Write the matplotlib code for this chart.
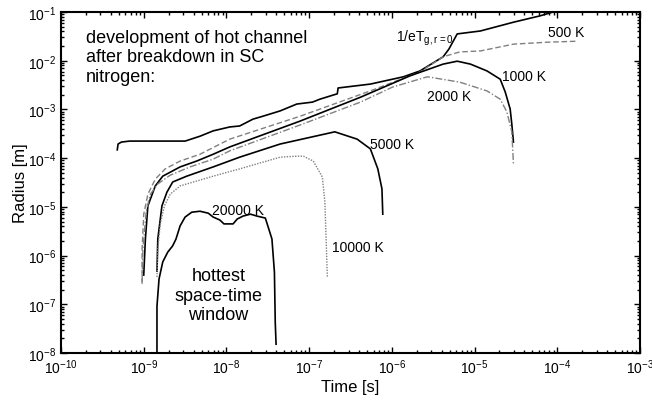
import numpy as np
import matplotlib
matplotlib.use('Agg')
import matplotlib.pyplot as plt
from matplotlib.ticker import LogLocator, NullFormatter

plt.rcParams['font.family'] = ['Liberation Sans', 'DejaVu Sans']
plt.rcParams['mathtext.default'] = 'regular'

# curves, stored as log10(time [s]) and log10(radius [m])
t_1e = [-9.32, -9.31, -9.27, -9.17, -8.50, -8.32, -8.16, -7.96, -7.84, -7.68, -7.56, -7.35,
        -7.15, -6.96, -6.87, -6.70, -6.66, -6.65, -6.26, -5.86, -5.66, -5.38, -5.31, -5.21,
        -4.93, -4.53, -4.21, -4.05, -3.95]
r_1e = [-3.83, -3.71, -3.67, -3.65, -3.65, -3.55, -3.44, -3.36, -3.34, -3.20, -3.14, -3.03,
        -2.89, -2.85, -2.79, -2.70, -2.68, -2.56, -2.48, -2.33, -2.21, -1.92, -1.76, -1.45,
        -1.39, -1.21, -1.08, -1.00, -0.95]

t_500 = [-9.02, -9.02, -9.00, -8.95, -8.86, -8.74, -8.56, -8.32, -7.96, -7.11, -6.26, -5.66,
         -5.38, -5.18, -4.93, -4.53, -4.12, -3.76]
r_500 = [-6.58, -5.87, -5.15, -4.74, -4.43, -4.22, -4.06, -3.92, -3.61, -3.14, -2.62, -2.23,
         -1.92, -1.82, -1.80, -1.66, -1.62, -1.60]

t_1000 = [-9.00, -8.98, -8.95, -8.86, -8.77, -8.56, -8.36, -8.16, -7.96, -7.11, -6.38, -5.78,
          -5.38, -5.21, -5.05, -4.85, -4.69, -4.63, -4.57, -4.55, -4.53]
r_1000 = [-6.40, -5.66, -4.98, -4.57, -4.37, -4.18, -4.06, -3.92, -3.77, -3.24, -2.75, -2.31,
          -2.07, -2.01, -2.07, -2.21, -2.38, -2.64, -2.99, -3.30, -3.67]

t_2000 = [-9.02, -9.01, -8.97, -8.92, -8.83, -8.68, -8.44, -8.16, -7.96, -7.11, -6.38, -5.99,
          -5.57, -5.18, -4.85, -4.69, -4.61, -4.55, -4.53]
r_2000 = [-6.54, -5.87, -5.09, -4.74, -4.53, -4.35, -4.18, -4.02, -3.85, -3.32, -2.85, -2.54,
          -2.33, -2.44, -2.62, -2.79, -3.05, -3.46, -4.12]

t_5000 = [-8.84, -8.83, -8.78, -8.72, -8.65, -8.48, -8.16, -7.84, -7.35, -6.69, -6.42, -6.26,
          -6.17, -6.12, -6.11]
r_5000 = [-6.32, -5.66, -4.98, -4.70, -4.49, -4.37, -4.18, -3.98, -3.71, -3.46, -3.61, -3.81,
          -4.22, -4.63, -5.15]

t_10000 = [-8.84, -8.83, -8.80, -8.75, -8.68, -8.56, -8.36, -8.16, -7.84, -7.35, -7.15, -7.07,
           -6.95, -6.84, -6.81, -6.78]
r_10000 = [-6.44, -5.87, -5.35, -4.98, -4.74, -4.57, -4.47, -4.37, -4.22, -3.98, -3.96, -3.96,
           -4.06, -4.39, -4.90, -6.44]

t_20000 = [-8.84, -8.84, -8.815, -8.77, -8.71, -8.65, -8.61, -8.56, -8.50, -8.42, -8.32, -8.22,
           -8.16, -8.08, -8.03, -7.92, -7.87, -7.80, -7.71, -7.63, -7.53, -7.50, -7.45, -7.42,
           -7.41, -7.40]
r_20000 = [-8.30, -7.04, -6.48, -6.13, -5.93, -5.80, -5.66, -5.39, -5.21, -5.11, -5.09, -5.13,
           -5.21, -5.27, -5.35, -5.35, -5.25, -5.19, -5.15, -5.19, -5.23, -5.39, -5.66, -6.34,
           -7.37, -7.82]

fig = plt.figure(figsize=(6.52, 4.02), dpi=100)
ax = fig.add_axes([0.0936, 0.1194, 0.888, 0.8483])

def p(t, r, **kw):
    ax.plot(10.0**np.asarray(t), 10.0**np.asarray(r), **kw)

p(t_1e, r_1e, color='black', lw=1.2)
p(t_500, r_500, color='#808080', lw=1.0, ls=(0, (4, 2)))
p(t_1000, r_1000, color='black', lw=1.2)
p(t_2000, r_2000, color='#808080', lw=1.0, ls=(0, (5, 1.5, 1, 1.5)))
p(t_5000, r_5000, color='black', lw=1.2)
p(t_10000, r_10000, color='#808080', lw=1.0, ls=(0, (1, 1)))
p(t_20000, r_20000, color='black', lw=1.2)

ax.set_xscale('log')
ax.set_yscale('log')
ax.set_xlim(1e-10, 1e-3)
ax.set_ylim(1e-8, 1e-1)
ax.xaxis.set_major_locator(LogLocator(base=10, numticks=20))
ax.yaxis.set_major_locator(LogLocator(base=10, numticks=20))
ax.xaxis.set_minor_locator(LogLocator(base=10, subs=np.arange(2, 10), numticks=20))
ax.yaxis.set_minor_locator(LogLocator(base=10, subs=np.arange(2, 10), numticks=20))
ax.xaxis.set_minor_formatter(NullFormatter())
ax.yaxis.set_minor_formatter(NullFormatter())
ax.tick_params(which='both', direction='in', top=True, right=True, labelsize=10, width=1.0)
ax.tick_params(which='major', length=4)
ax.tick_params(which='minor', length=2.5)
for s in ax.spines.values():
    s.set_linewidth(1.5)

ax.set_xlabel('Time [s]', fontsize=12, labelpad=2)
ax.set_ylabel('Radius [m]', fontsize=12, labelpad=0)

ax.text(0.043, 0.868, 'development of hot channel\nafter breakdown in SC\nnitrogen:',
        transform=ax.transAxes, fontsize=13, va='center', ha='left', linespacing=1.2)
ax.text(0.272, 0.170, 'hottest\nspace-time\nwindow', transform=ax.transAxes, fontsize=13,
        va='center', ha='center', multialignment='center', linespacing=1.2)

ax.text(0.841, 0.941, '500 K', transform=ax.transAxes, fontsize=10, va='center')
ax.text(0.762, 0.812, '1000 K', transform=ax.transAxes, fontsize=10, va='center')
ax.text(0.632, 0.754, '2000 K', transform=ax.transAxes, fontsize=10, va='center')
ax.text(0.534, 0.613, '5000 K', transform=ax.transAxes, fontsize=10, va='center')
ax.text(0.468, 0.311, '10000 K', transform=ax.transAxes, fontsize=10, va='center')
ax.text(0.261, 0.419, '20000 K', transform=ax.transAxes, fontsize=10, va='center')
ax.text(0.579, 0.927, '1/eT$_{g,r=0}$', transform=ax.transAxes, fontsize=10, va='center')

fig.savefig('out.png', dpi=100)
